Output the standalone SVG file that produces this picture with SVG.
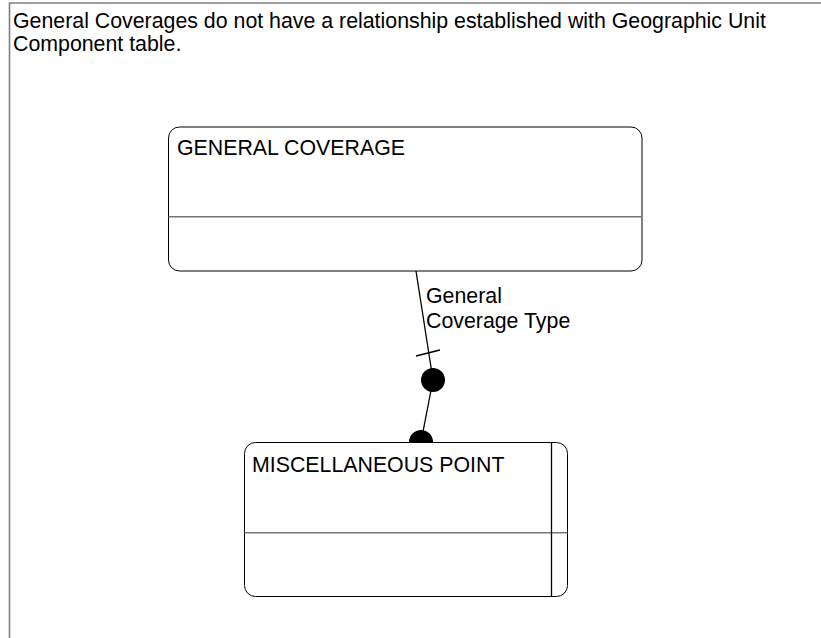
<svg xmlns="http://www.w3.org/2000/svg" width="821" height="638" viewBox="0 0 821 638">
<style>
text{font-family:"Liberation Sans",Arial,sans-serif;font-size:21.33px;fill:#000}
.box{fill:#fff;stroke:#000;stroke-width:1}
.div{stroke:#777;stroke-width:1.4}
.frame{stroke:#808080;stroke-width:1.6;fill:none}
.conn{stroke:#000;stroke-width:1.3;fill:none}
</style>
<rect width="821" height="638" fill="#fff"/>
<g id="frame">
<path class="frame" d="M9.5,638 V3 H821"/>
<text x="13" y="28" font-size="21">General Coverages do not have a relationship established with Geographic Unit</text>
<text x="13" y="51" font-size="21">Component table.</text>
</g>
<g id="general-coverage">
<rect class="box" x="168.5" y="127" width="473.5" height="144" rx="11"/>
<line class="div" x1="168.5" y1="216.7" x2="642" y2="216.7"/>
<text x="177" y="155">GENERAL COVERAGE</text>
</g>
<g id="miscellaneous-point">
<rect class="box" x="244.5" y="442.5" width="323" height="154" rx="11"/>
<line class="div" x1="244.5" y1="532.7" x2="567.5" y2="532.7"/>
<line class="conn" x1="551.5" y1="442.5" x2="551.5" y2="596.5" stroke-width="1"/>
<text x="252" y="472">MISCELLANEOUS POINT</text>
</g>
<g id="connectors">
<line class="conn" x1="416" y1="271" x2="433" y2="380"/>
<line class="conn" x1="416" y1="356" x2="440" y2="350"/>
<circle cx="433" cy="380" r="12" fill="#000"/>
<line class="conn" x1="433" y1="380" x2="421" y2="442"/>
<path d="M409,442 A12,12 0 0 1 433,442 Z" fill="#000"/>
<text x="426" y="303">General</text>
<text x="426" y="328">Coverage Type</text>
</g>
</svg>
